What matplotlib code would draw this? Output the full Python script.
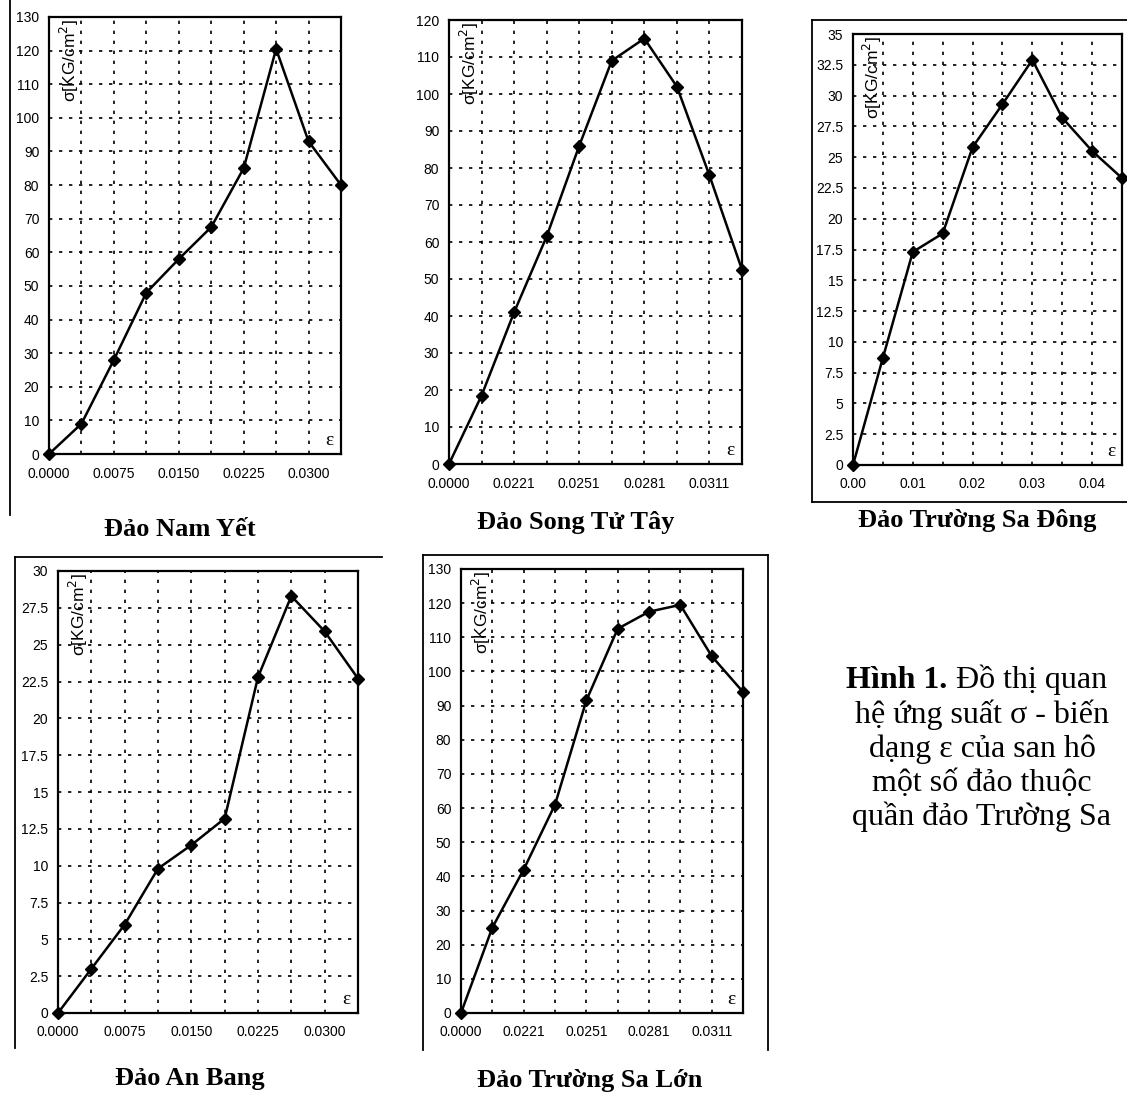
import matplotlib.pyplot as plt
from matplotlib.lines import Line2D
from matplotlib.ticker import FuncFormatter
import numpy as np

W, H = 1127, 1093

# strain labels (category axis, every other point labelled)
eps_a = ["0.0000", "0.0075", "0.0150", "0.0225", "0.0300"]
eps_b = ["0.0000", "0.0221", "0.0251", "0.0281", "0.0311"]
eps_c = ["0.00", "0.01", "0.02", "0.03", "0.04"]

# stress values sigma [KG/cm2]
nam_yet = [0, 9, 28, 48, 58, 67.5, 85, 120.5, 93, 80]
song_tu_tay = [0, 18.5, 41, 61.5, 86, 109, 115, 102, 78, 52.5]
truong_sa_dong = [0, 8.7, 17.3, 18.8, 25.8, 29.3, 32.9, 28.2, 25.5, 23.3]
an_bang = [0, 3, 6, 9.8, 11.4, 13.2, 22.8, 28.3, 25.9, 22.7]
truong_sa_lon = [0, 25, 42, 61, 91.5, 112.5, 117.5, 119.5, 104.5, 94]

titles = ["Đảo Nam Yết", "Đảo Song Tử Tây", "Đảo Trường Sa Đông",
          "Đảo An Bang", "Đảo Trường Sa Lớn"]

caption = ["Đồ thị quan", "hệ ứng suất σ - biến", "dạng ε của san hô",
           "một số đảo thuộc", "quần đảo Trường Sa"]

plt.rcParams['font.family'] = ['Liberation Sans', 'DejaVu Sans']
serif = ['Liberation Serif', 'DejaVu Serif']

fig = plt.figure(figsize=(W / 100, H / 100), dpi=100)
fig.patch.set_facecolor('white')


def px_axes(l, t, r, b):
    return fig.add_axes([l / W, 1 - b / H, (r - l) / W, (b - t) / H])


def draw_panel(box, values, xlabels, ymax, ystep, title, tpos):
    ax = px_axes(*box)
    n = len(values)
    x = np.arange(n)
    ax.plot(x, values, color='black', lw=1.8, marker='D', ms=6.5,
            mfc='black', mec='black', zorder=5, clip_on=False)
    ax.set_xlim(0, n - 1)
    ax.set_ylim(0, ymax)
    ax.set_xticks(x)
    ax.set_xticklabels([xlabels[i // 2] if i % 2 == 0 else "" for i in x])
    ax.set_yticks(np.arange(0, ymax + ystep / 2, ystep))
    ax.yaxis.set_major_formatter(FuncFormatter(lambda v, p: "%g" % v))
    ax.grid(True, color='black', linestyle=(0, (2, 4)), lw=1.2)
    ax.tick_params(length=0, labelsize=10, colors='black')
    ax.tick_params(axis='x', pad=9)
    ax.tick_params(axis='y', pad=7)
    for s in ax.spines.values():
        s.set_linewidth(1.6)
        s.set_color('black')
    ax.text(0.03, 0.995, "σ[KG/cm$^2$]", transform=ax.transAxes, rotation=90,
            ha='left', va='top', fontsize=12.5)
    ax.text(0.975, 0.012, "ε", transform=ax.transAxes, ha='right',
            va='bottom', fontsize=14, family=serif)
    fig.text(tpos[0] / W, 1 - tpos[1] / H, title, ha='center', va='center',
             fontsize=19, fontweight='bold', family=serif)
    return ax


draw_panel((49, 17, 341, 454), nam_yet, eps_a, 130, 10, titles[0], (180, 530))
draw_panel((449, 20, 742, 464), song_tu_tay, eps_b, 120, 10, titles[1], (576, 522))
draw_panel((853, 34, 1122, 465), truong_sa_dong, eps_c, 35, 2.5, titles[2], (977, 520))
draw_panel((58, 571, 358, 1013), an_bang, eps_a, 30, 2.5, titles[3], (190, 1078))
draw_panel((461, 569, 743, 1013), truong_sa_lon, eps_b, 130, 10, titles[4], (590, 1080))


# scanned frame lines
def fline(x0, y0, x1, y1, lw=1.3):
    fig.add_artist(Line2D([x0 / W, x1 / W], [1 - y0 / H, 1 - y1 / H],
                          color='black', lw=lw))


fline(10, 0, 10, 515)
fline(812, 20, 1127, 20)
fline(812, 20, 812, 502)
fline(812, 502, 1127, 502)
fline(15, 557, 382, 557)
fline(15, 557, 15, 1048)
fline(423, 555, 768, 555)
fline(423, 555, 423, 1050)
fline(768, 555, 768, 1050)

# caption, first line starts with bold "Hình 1."
cx = 982 / W
ys = [680, 715, 749, 783, 817]
fs = 23
t = fig.text(cx, 1 - ys[0] / H, "Hình 1. " + caption[0], ha='center', va='center',
             fontsize=fs, family=serif, fontweight='bold', alpha=0)
fig.canvas.draw()
bb = t.get_window_extent()
t.remove()
t1 = fig.text(bb.x0 / W, 1 - ys[0] / H, "Hình 1.", ha='left', va='center',
              fontsize=fs, family=serif, fontweight='bold')
fig.canvas.draw()
bb1 = t1.get_window_extent()
fig.text(bb1.x1 / W, 1 - ys[0] / H, " " + caption[0], ha='left', va='center',
         fontsize=fs, family=serif)
for line, y in zip(caption[1:], ys[1:]):
    fig.text(cx, 1 - y / H, line, ha='center', va='center', fontsize=fs, family=serif)

fig.savefig("out.png", dpi=100)
